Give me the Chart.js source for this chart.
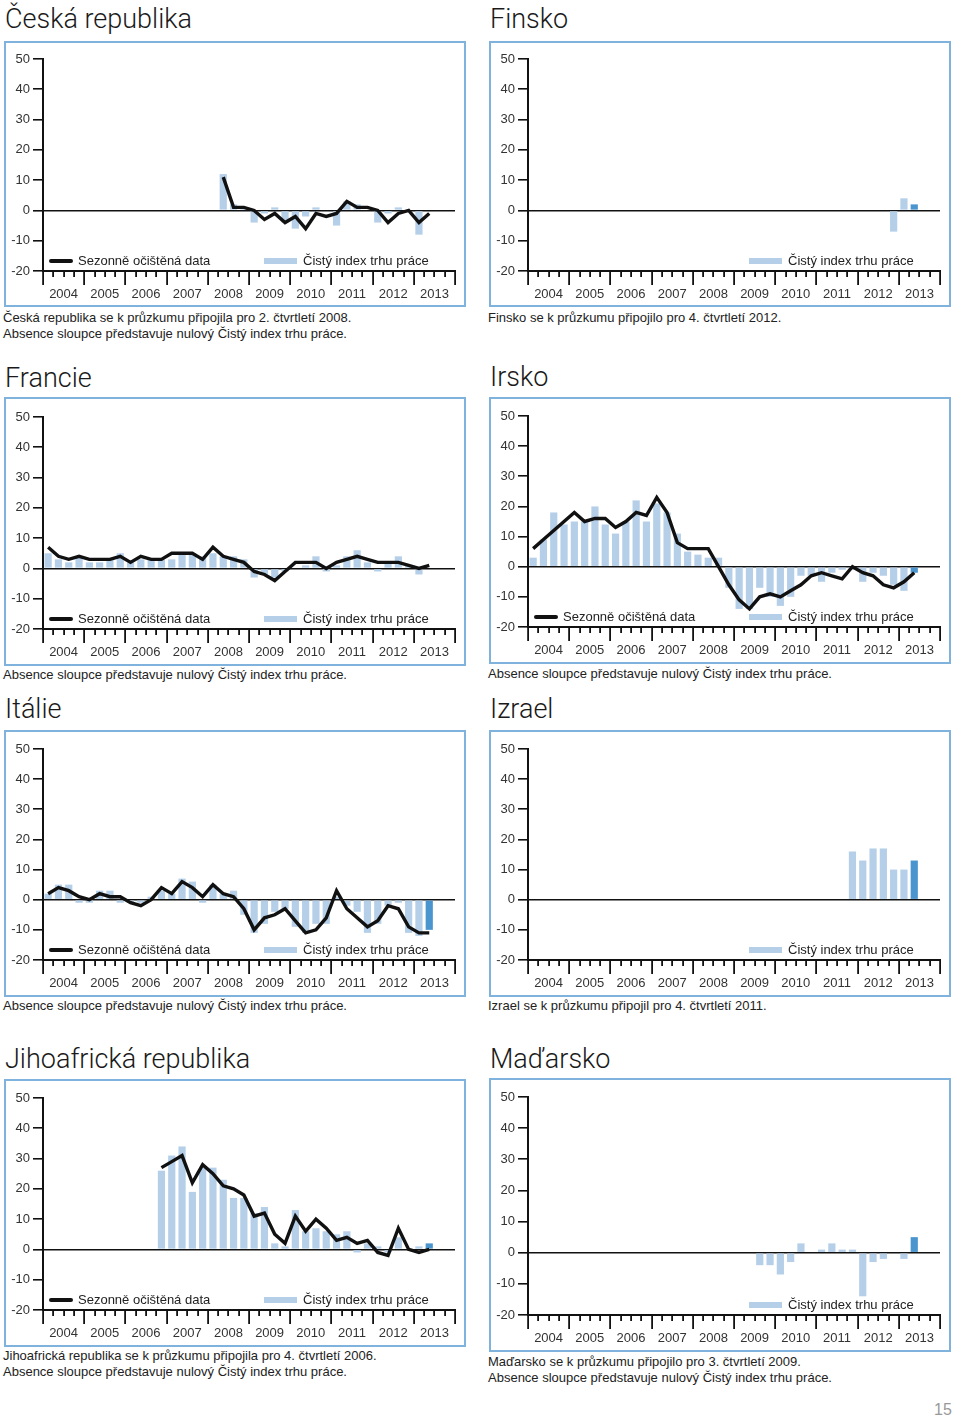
<!DOCTYPE html>
<html>
<head>
<meta charset="utf-8">
<script src="https://cdn.jsdelivr.net/npm/chart.js@4/dist/chart.umd.min.js"></script>
<style>
body { margin: 0; background: #fff; font-family: "Liberation Sans", Arial, sans-serif; color: #222; }
#page { position: relative; width: 960px; height: 1417px; overflow: hidden; }
.title { position: absolute; font-family: Roboto, "Liberation Sans", sans-serif; font-weight: 300; font-size: 27px; line-height: 30px; color: #1a1a1a; white-space: nowrap; }
.box { position: absolute; border: 2px solid #7fb2dc; }
.box canvas { display: block; }
.note { position: absolute; font-size: 13px; line-height: 15.5px; color: #222; white-space: nowrap; }
.leg { position: absolute; font-size: 13px; line-height: 14px; color: #222; white-space: nowrap; }
.sw-line { position: absolute; width: 24px; height: 4px; border-radius: 2px; background: #111; }
.sw-bar { position: absolute; width: 33px; height: 6px; background: #b5cfe9; }
#pgnum { position: absolute; left: 934px; top: 1401px; font-size: 16px; color: #999; }
</style>
</head>
<body>
<div id="page"><div id="pgnum">15</div></div>
<script>
// years on the axis, each split in 4 quarters
const years = ['2004', '2005', '2006', '2007', '2008', '2009', '2010', '2011', '2012', '2013'];
const quarters = [];
years.forEach(y => { for (let q = 1; q <= 4; q++) quarters.push(y + ' Q' + q); });

const lineName = 'Sezonně očištěná data';
const barName = 'Čistý index trhu práce';
const noZero = 'Absence sloupce představuje nulový Čistý index trhu práce.';

// Česká republika, from 2008 Q2
const czFrom = '2008 Q2';
const czLine = [11, 1, 1, 0, -3, -1, -4, -2, -6, -1, -2, -1, 3, 1, 1, 0, -4, -1, 0, -4, -1];
const czBars = [12, 2, 1, -4, -1, 1, -4, -6, -2, 1, 0, -5, 3, 2, 0, -4, -1, 1, 0, -8, 0];

// Finsko, from 2012 Q4
const fiFrom = '2012 Q4';
const fiBars = [-7, 4, 2];

// Francie
const frFrom = '2004 Q1';
const frLine = [7, 4, 3, 4, 3, 3, 3, 4, 2, 4, 3, 3, 5, 5, 5, 3, 7, 4, 3, 2, -1, -2, -4, -1, 2, 2, 2, 0, 2, 3, 4, 3, 2, 2, 2, 1, 0, 1];
const frBars = [5, 3, 2, 4, 2, 2, 3, 5, 2, 3, 3, 3, 3, 5, 5, 4, 5, 4, 4, 3, -3, -2, -3, -1, 0, 1, 4, -1, 1, 4, 6, 2, -1, 2, 4, 1, -2, 0];

// Irsko
const ieFrom = '2004 Q1';
const ieLine = [6, 9, 12, 15, 18, 15, 16, 16, 13, 15, 18, 17, 23, 18, 8, 6, 6, 6, 0, -6, -11, -14, -10, -9, -10, -8, -6, -3, -2, -3, -4, 0, -2, -3, -6, -7, -5, -2];
const ieBars = [3, 9, 18, 14, 15, 15, 20, 14, 11, 15, 22, 15, 21, 18, 11, 5, 4, 3, 3, -7, -14, -14, -7, -10, -13, -10, -3, -3, -5, -2, -1, -1, -5, -2, -3, -6, -8, -2];

// Itálie
const itFrom = '2004 Q1';
const itLine = [2, 4, 3, 1, 0, 2, 1, 1, -1, -2, 0, 4, 2, 6, 4, 1, 5, 2, 1, -3, -10, -6, -5, -3, -7, -11, -10, -6, 3, -3, -6, -9, -7, -2, -3, -9, -11, -11];
const itBars = [2, 5, 5, -1, -1, 3, 3, -1, -1, -1, 1, 3, 2, 7, 6, -1, 5, 2, 3, -5, -11, -8, -4, -3, -9, -11, -8, -8, 1, -2, -4, -11, -8, -2, -1, -11, -12, -10];

// Izrael, from 2011 Q4
const ilFrom = '2011 Q4';
const ilBars = [16, 13, 17, 17, 10, 10, 13];

// Jihoafrická republika, from 2006 Q4
const zaFrom = '2006 Q4';
const zaLine = [27, 29, 31, 22, 28, 25, 21, 20, 18, 11, 12, 5, 2, 11, 6, 10, 7, 3, 4, 2, 3, -1, -2, 7, 0, -1, 0];
const zaBars = [26, 31, 34, 19, 27, 27, 23, 17, 17, 12, 14, 2, 1, 13, 6, 7, 6, 5, 6, -1, 2, 1, -1, 4, 0, 1, 2];

// Maďarsko, from 2009 Q3
const huFrom = '2009 Q3';
const huBars = [-4, -4, -7, -3, 3, 0, 1, 3, 1, 1, -14, -3, -2, 0, -2, 5];

const yTicks = { min: -20, max: 50, step: 10 };

const panels = [
  { title: 'Česká republika', from: czFrom, line: czLine, bars: czBars, left: 4, top: 41, h: 266, plotTop: 59, plotBottom: 271, titleTop: 4,
    notes: ['Česká republika se k průzkumu připojila pro 2. čtvrtletí 2008.', noZero], noteTop: 310 },
  { title: 'Finsko', from: fiFrom, bars: fiBars, left: 489, top: 41, h: 266, plotTop: 59, plotBottom: 271, titleTop: 4,
    notes: ['Finsko se k průzkumu připojilo pro 4. čtvrtletí 2012.'], noteTop: 310 },
  { title: 'Francie', from: frFrom, line: frLine, bars: frBars, left: 4, top: 397, h: 269, plotTop: 417, plotBottom: 629, titleTop: 363,
    notes: [noZero], noteTop: 667 },
  { title: 'Irsko', from: ieFrom, line: ieLine, bars: ieBars, left: 489, top: 397, h: 267, plotTop: 416, plotBottom: 627, titleTop: 362,
    notes: [noZero], noteTop: 666 },
  { title: 'Itálie', from: itFrom, line: itLine, bars: itBars, left: 4, top: 730, h: 267, plotTop: 749, plotBottom: 960, titleTop: 694,
    notes: [noZero], noteTop: 998 },
  { title: 'Izrael', from: ilFrom, bars: ilBars, left: 489, top: 730, h: 267, plotTop: 749, plotBottom: 960, titleTop: 694,
    notes: ['Izrael se k průzkumu připojil pro 4. čtvrtletí 2011.'], noteTop: 998 },
  { title: 'Jihoafrická republika', from: zaFrom, line: zaLine, bars: zaBars, left: 4, top: 1079, h: 268, plotTop: 1098, plotBottom: 1310, titleTop: 1044,
    notes: ['Jihoafrická republika se k průzkumu připojila pro 4. čtvrtletí 2006.', noZero], noteTop: 1348 },
  { title: 'Maďarsko', from: huFrom, bars: huBars, left: 489, top: 1078, h: 274, plotTop: 1097, plotBottom: 1315, titleTop: 1044,
    notes: ['Maďarsko se k průzkumu připojilo pro 3. čtvrtletí 2009.', noZero], noteTop: 1354 }
];

const light = '#b5cfe9';
const dark = '#4b95cf';
const ink = '#111';

Chart.defaults.font.family = '"Liberation Sans", Arial, sans-serif';
Chart.defaults.font.size = 13;
Chart.defaults.color = '#333';

// short tick per quarter, long one per year
const quarterTicks = {
  id: 'quarterTicks',
  afterDraw(chart) {
    const x = chart.scales.x, c = chart.ctx, y0 = chart.chartArea.bottom;
    c.save();
    c.strokeStyle = ink;
    c.lineWidth = 1.8;
    for (let b = 0; b <= quarters.length; b++) {
      const px = Math.round(x.getPixelForValue(b - 0.5)) + 0.1;
      c.beginPath();
      c.moveTo(px, y0);
      c.lineTo(px, y0 + (b % 4 === 0 ? 14 : 6));
      c.stroke();
    }
    c.restore();
  }
};

// put a series on the full quarter axis, starting at its first quarter
function align(from, values) {
  const out = quarters.map(() => null);
  const start = quarters.indexOf(from);
  values.forEach((v, i) => { out[start + i] = v; });
  return out;
}

const page = document.getElementById('page');

panels.forEach(p => {
  const t = document.createElement('div');
  t.className = 'title';
  t.textContent = p.title;
  t.style.left = (p.left + 1) + 'px';
  t.style.top = p.titleTop + 'px';
  page.appendChild(t);

  const innerW = 458, innerH = p.h - 4;
  const box = document.createElement('div');
  box.className = 'box';
  box.style.left = p.left + 'px';
  box.style.top = p.top + 'px';
  box.style.width = innerW + 'px';
  box.style.height = innerH + 'px';
  const cv = document.createElement('canvas');
  cv.width = innerW;
  cv.height = innerH;
  box.appendChild(cv);
  page.appendChild(box);

  const n = document.createElement('div');
  n.className = 'note';
  n.innerHTML = p.notes.join('<br>');
  n.style.left = (p.left - 1) + 'px';
  n.style.top = p.noteTop + 'px';
  page.appendChild(n);

  const padTop = p.plotTop - p.top - 2;
  const xH = p.top + p.h - 2 - p.plotBottom;
  const padL = 1, yW = 36, padR = 9;
  const halfQ = (innerW - padL - yW - padR) / quarters.length / 2;
  const bars = align(p.from, p.bars);
  const last = bars.length - 1 - bars.slice().reverse().findIndex(v => v !== null);

  const datasets = [{
    type: 'bar',
    label: barName,
    data: bars,
    backgroundColor: ctx => ctx.dataIndex === last ? dark : light,
    barPercentage: 0.7,
    categoryPercentage: 1,
    order: 2
  }];
  if (p.line) {
    datasets.push({
      type: 'line',
      label: lineName,
      data: align(p.from, p.line),
      borderColor: ink,
      borderWidth: 3.4,
      borderJoinStyle: 'miter',
      pointRadius: 0,
      tension: 0,
      order: 1
    });
  }

  const chart = new Chart(cv, {
    data: { labels: quarters, datasets: datasets },
    options: {
      responsive: false,
      animation: false,
      layout: { padding: { top: padTop, right: padR, left: padL, bottom: 0 } },
      plugins: { legend: { display: false }, tooltip: { enabled: false } },
      scales: {
        x: {
          offset: true,
          grid: { drawOnChartArea: false, tickLength: 13, color: 'transparent' },
          border: { display: true, color: ink, width: 2 },
          ticks: {
            autoSkip: false, maxRotation: 0, padding: 3, labelOffset: halfQ,
            callback: (v, i) => i % 4 === 1 ? quarters[i].slice(0, 4) : ''
          },
          afterFit: s => { s.height = xH; }
        },
        y: {
          min: yTicks.min, max: yTicks.max,
          ticks: { stepSize: yTicks.step, padding: 3 },
          grid: {
            color: ctx => ctx.tick && ctx.tick.value === 0 ? ink : 'transparent',
            lineWidth: 1.6, tickColor: ink, tickLength: 10, tickWidth: 1.6
          },
          border: { color: ink, width: 2 },
          afterFit: s => { s.width = yW; }
        }
      }
    },
    plugins: [quarterTicks]
  });

  // legend inside the plot, just above the bottom axis
  const ly = chart.chartArea.bottom - 10;
  if (p.line) {
    const sl = document.createElement('div');
    sl.className = 'sw-line';
    sl.style.left = '43px';
    sl.style.top = (ly - 2) + 'px';
    box.appendChild(sl);
    const tl = document.createElement('div');
    tl.className = 'leg';
    tl.textContent = lineName;
    tl.style.left = '72px';
    tl.style.top = (ly - 7) + 'px';
    box.appendChild(tl);
  }
  const sb = document.createElement('div');
  sb.className = 'sw-bar';
  sb.style.left = '258px';
  sb.style.top = (ly - 3) + 'px';
  box.appendChild(sb);
  const tb = document.createElement('div');
  tb.className = 'leg';
  tb.textContent = barName;
  tb.style.left = '297px';
  tb.style.top = (ly - 7) + 'px';
  box.appendChild(tb);
});
</script>
</body>
</html>
